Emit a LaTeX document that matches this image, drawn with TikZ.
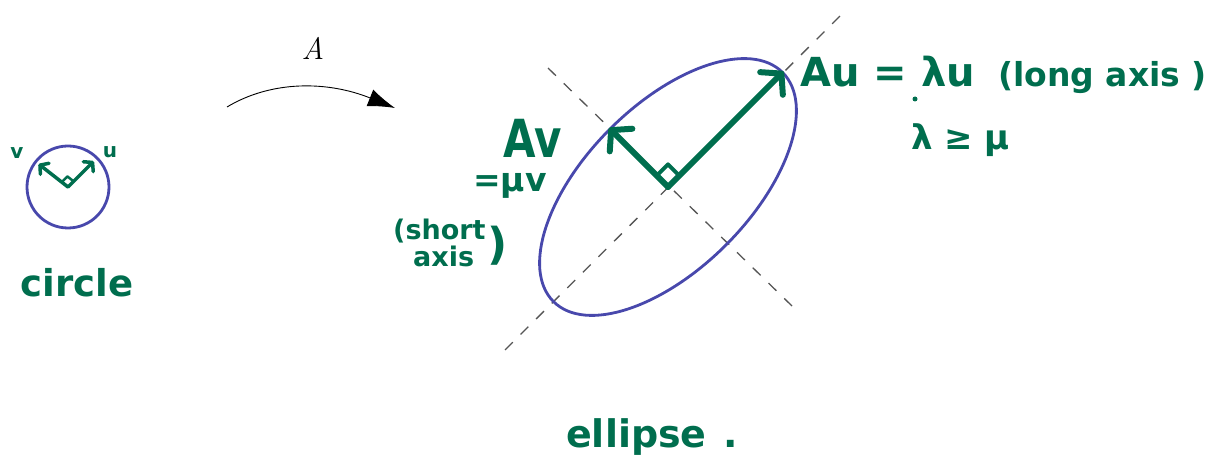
\documentclass[tikz,border=0pt]{standalone}
\usepackage{fontspec}
\newfontfamily\hand{DejaVu Sans}
\usetikzlibrary{arrows.meta,calc,shapes.geometric}
\definecolor{hgreen}{RGB}{0,110,78}
\definecolor{ellblue}{RGB}{72,72,172}
\definecolor{dashgray}{RGB}{85,85,85}
\begin{document}
\begin{tikzpicture}[x=1pt,y=1pt,
  axisline/.style={draw=dashgray, line width=1.3pt, dash pattern=on 11pt off 11pt},
  blueline/.style={draw=ellblue, line width=2.8pt},
  bigvec/.style={draw=hgreen, line width=6pt, line cap=round, line join=round,
     -{Straight Barb[length=14pt,width=32pt,round]}},
  smallvec/.style={draw=hgreen, line width=3.5pt, line cap=round, line join=round,
     -{Straight Barb[length=6pt,width=14pt,round]}},
  hw/.style={text=hgreen, inner sep=0pt, font=\hand\bfseries},
  hwsize/.style={font=\hand\bfseries\fontsize{#1}{#1}\selectfont}
]
\useasboundingbox (0,0) rectangle (1213,466);

% ---------- circle ----------
\node[circle, blueline, minimum size=82pt, inner sep=0pt] (circ) at (68,279) {};
\coordinate (cu) at ($(circ.center)!0.86!(circ.45)$);
\coordinate (cv) at ($(circ.center)!0.88!(circ.142)$);
\coordinate (csa) at ($(circ.center)!8pt!(cu)$);
\coordinate (csb) at ($(circ.center)!8pt!(cv)$);
\coordinate (csc) at ($(csa)+(csb)-(circ.center)$);
\draw[draw=hgreen, line width=2.5pt, line join=round] (csa) -- (csc) -- (csb);
\draw[smallvec] (circ.center) -- (cu);
\draw[smallvec] (circ.center) -- (cv);
\node[hw, hwsize=20, anchor=base] (lv) at (17,307) {v};
\node[hw, hwsize=20, anchor=base] (lu) at (110,308) {u};
\node[hw, hwsize=37, anchor=base] (lcircle) at (77,169) {circle};

% ---------- map arrow ----------
\coordinate (arcS) at (227,359);
\coordinate (arcE) at (395,358);
\draw[line width=0.9pt, -{Latex[length=27pt,width=18pt]}] (arcS) .. controls (272,386) and (328,385) .. (arcE);
\node[font=\fontsize{31}{31}\selectfont\itshape, inner sep=0pt] (lA) at (313,418) {A};

% ---------- ellipse ----------
\coordinate (ma1) at (505,116);
\coordinate (ma2) at (843,453);
\coordinate (mi1) at (548,398);
\coordinate (mi2) at (792,160);
\draw[axisline] (ma1) -- (ma2);
\draw[axisline] (mi1) -- (mi2);
\node[ellipse, blueline, minimum width=324pt, minimum height=164pt, inner sep=0pt, rotate=45] (ell) at (668,279) {};
\coordinate (sqa) at ($(ell.center)!16pt!(ell.east)$);
\coordinate (sqb) at ($(ell.center)!16pt!(ell.north)$);
\coordinate (sqc) at ($(sqa)+(sqb)-(ell.center)$);
\draw[draw=hgreen, line width=4pt, line join=round] (sqa) -- (sqc) -- (sqb);
\draw[bigvec] (ell.center) -- (ell.east);
\draw[bigvec] (ell.center) -- (ell.north);

% ---------- labels ----------
\node[hw, hwsize=40, anchor=base west] (lAu) at (800,379) {Au = λu};
\node[hw, hwsize=33, anchor=base west] (llong) at (998,379) {(long axis )};
\node[circle, fill=hgreen, inner sep=0pt, minimum size=5pt] (ldot) at (915,367) {};
\node[hw, hwsize=34, anchor=base west] (lineq) at (911,316) {λ ≥ μ};
\node[hw, hwsize=42, anchor=base west] (lAv) at (503,308) {\scalebox{1}[1.25]{Av}};
\node[hw, hwsize=33, anchor=base west] (lmuv) at (473,274) {=μv};
\node[hw, hwsize=27, anchor=base west] (lshort) at (393,226) {(short};
\node[hw, hwsize=27, anchor=base west] (laxis) at (413,199) {axis};
\node[hw, hwsize=44] (lparen) at (498,220) {)};
\node[hw, hwsize=38, anchor=base west] (lellipse) at (566,19) {ellipse\hspace{0.45em}.};
\end{tikzpicture}
\end{document}
